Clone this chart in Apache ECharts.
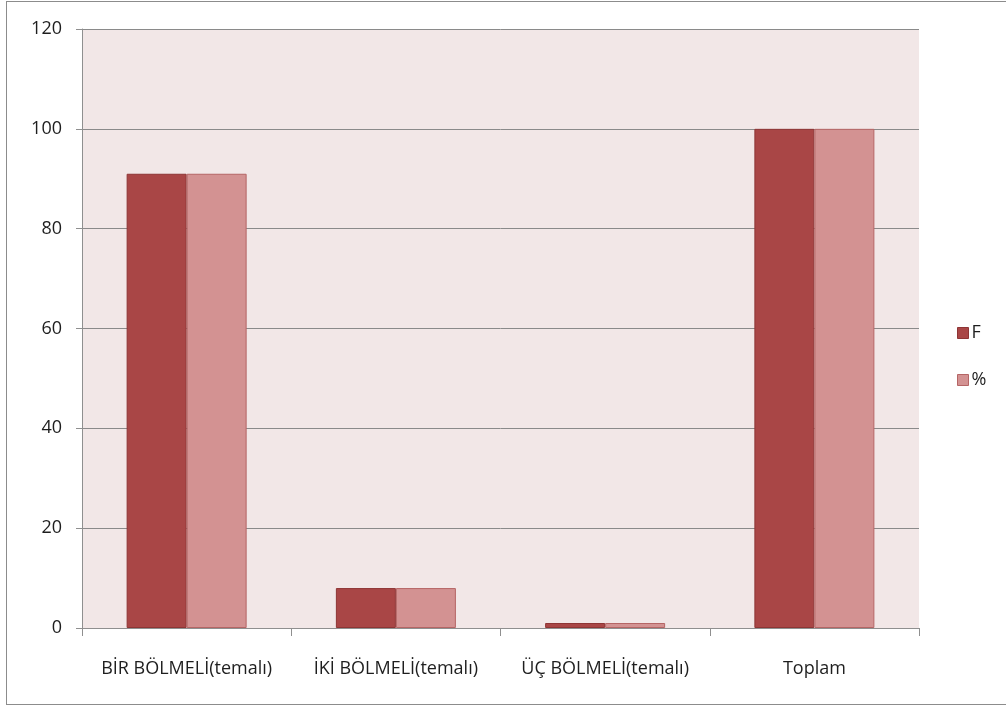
<!DOCTYPE html>
<html>
<head>
<meta charset="utf-8">
<script src="https://cdn.jsdelivr.net/npm/echarts@6/dist/echarts.min.js"></script>
<style>
  html, body { margin: 0; padding: 0; background: #fff; }
  #frame { position: absolute; left: 6px; top: 1px; width: 1010px; height: 704px; border: 1.5px solid #8c8c8c; box-sizing: border-box; }
  #chart { position: absolute; left: 0; top: 0; width: 1006px; height: 709px; }
</style>
</head>
<body>
<div id="frame"></div>
<div id="chart"></div>
<script>
// Categories and values
const categories = ['BİR BÖLMELİ(temalı)', 'İKİ BÖLMELİ(temalı)', 'ÜÇ BÖLMELİ(temalı)', 'Toplam'];
const seriesNames = ['F', '%'];
const valuesF = [91, 8, 1, 100];
const valuesPct = [91, 8, 1, 100];
const yTicks = [0, 20, 40, 60, 80, 100, 120];

const font = '"Open Sans", "Noto Sans", sans-serif';
const chart = echarts.init(document.getElementById('chart'), null, { renderer: 'canvas' });

chart.setOption({
  animation: false,
  grid: {
    left: 82, top: 29, width: 837, height: 599,
    show: true, backgroundColor: '#F2E7E7', borderWidth: 0
  },
  legend: {
    orient: 'vertical', left: 952, top: 319,
    itemWidth: 11, itemHeight: 11, itemGap: 29,
    textStyle: { fontFamily: font, fontSize: 18, color: '#1e1e1e', padding: [0, 0, 0, -2] },
    data: [
      { name: 'F', icon: 'rect', itemStyle: { color: '#A94646', borderColor: '#8E3535', borderWidth: 1 } },
      { name: '%', icon: 'rect', itemStyle: { color: '#D39292', borderColor: '#B56565', borderWidth: 1 } }
    ]
  },
  xAxis: {
    type: 'category', data: categories,
    axisLine: { lineStyle: { color: '#8f8f8f', width: 1 } },
    axisTick: { show: true, length: 8, interval: 0, alignWithLabel: false, lineStyle: { color: '#8f8f8f' } },
    axisLabel: { interval: 0, fontFamily: font, fontSize: 18, color: '#1e1e1e', margin: 32 },
    splitLine: { show: false }
  },
  yAxis: {
    type: 'value', min: yTicks[0], max: yTicks[yTicks.length - 1], interval: 20,
    axisLine: { show: true, lineStyle: { color: '#8f8f8f', width: 1 } },
    axisTick: { show: true, length: 6, lineStyle: { color: '#8f8f8f' } },
    axisLabel: { fontFamily: font, fontSize: 18, color: '#1e1e1e', margin: 20 },
    splitLine: { show: true, lineStyle: { color: '#8a8a8a', width: 1 } }
  },
  series: [
    {
      name: seriesNames[0], type: 'bar', data: valuesF, barWidth: 60, barGap: '0%',
      itemStyle: { color: '#A94646', borderColor: '#8E3535', borderWidth: 1 }
    },
    {
      name: seriesNames[1], type: 'bar', data: valuesPct, barWidth: 60,
      itemStyle: { color: '#D39292', borderColor: '#B56565', borderWidth: 1 }
    }
  ]
});
</script>
</body>
</html>
